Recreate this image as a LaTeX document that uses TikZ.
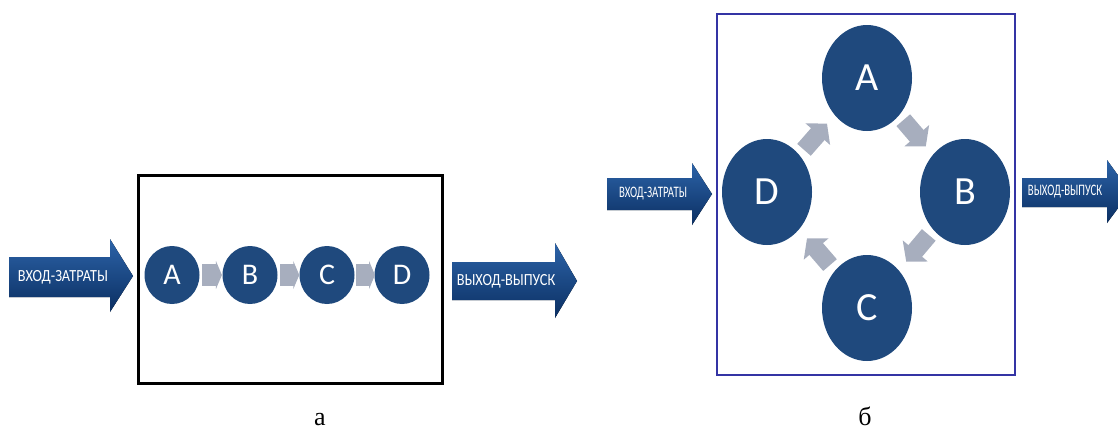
\documentclass[tikz,border=0pt]{standalone}
\usepackage{fontspec}
\setmainfont{Liberation Serif}
\newfontfamily\calib{Carlito}
\usetikzlibrary{positioning, shapes.geometric, arrows.meta, calc}

\definecolor{navy}{HTML}{1F497D}
\definecolor{arrtop}{HTML}{2C63A8}
\definecolor{arrbot}{HTML}{0B2F62}
\definecolor{flowgray}{HTML}{A7AEBE}
\definecolor{framblue}{HTML}{3434A4}

\begin{document}
\begin{tikzpicture}[x=0.5pt, y=-0.5pt,
    stage/.style={ellipse, fill=navy, text=white, inner sep=0pt, font=\calib\fontsize{15}{15}\selectfont, minimum width=27.5pt, minimum height=29pt},
    bigstage/.style={stage, font=\calib\fontsize{20}{20}\selectfont, minimum width=45pt, minimum height=53pt},
    flow/.style={draw=flowgray, line width=11pt, -{Triangle[length=3pt, width=14pt]}},
    bigflow/.style={draw=flowgray, line width=9pt, -{Triangle[length=7pt, width=16pt]}},
    io/.style={top color=arrtop, bottom color=arrbot, draw=none},
    iotext/.style={text=white, font=\calib\fontsize{8.5}{8.5}\selectfont, inner sep=0pt, xscale=0.84},
    smalliotext/.style={iotext, font=\calib\fontsize{8}{8}\selectfont, xscale=0.8},
    caption/.style={font=\fontsize{13}{13}\selectfont, anchor=base}]

    \useasboundingbox (0,0) rectangle (1118,430);
    \clip (0,0) rectangle (1118,430);

    % --- a: linear process
    \draw[line width=1.5pt] (138,175) rectangle (442,383);
    \fill[io] (9,257) -- (110,257) -- (110,239) -- (133,276) -- (110,312) -- (110,297) -- (9,297) -- cycle;
    \node[iotext] (inL) at (63,277) {ВХОД-ЗАТРАТЫ};
    \fill[io] (452,262) -- (555,262) -- (555,243) -- (577,281) -- (555,318) -- (555,300) -- (452,300) -- cycle;
    \node[iotext] (outL) at (506,281) {ВЫХОД-ВЫПУСК};

    \node[stage] (a1) at (172,275) {A};
    \node[stage] (b1) at (250,275) {B};
    \node[stage] (c1) at (327,275) {C};
    \node[stage] (d1) at (402,275) {D};
    \foreach \s/\t in {a1/b1, b1/c1, c1/d1}
        \draw[flow] ($(\s)!0.39!(\t)$) -- ($(\s)!0.64!(\t)$);

    \node[caption] (capa) at (320,425) {а};

    % --- b: closed cycle
    \draw[framblue, line width=1.2pt] (717,14) rectangle (1015,375);
    \fill[io] (607,178) -- (692,178) -- (692,163) -- (712,194) -- (692,225) -- (692,210) -- (607,210) -- cycle;
    \node[smalliotext] (inR) at (653,194) {ВХОД-ЗАТРАТЫ};
    \fill[io] (1022,178) -- (1107,178) -- (1107,160) -- (1130,192) -- (1107,223) -- (1107,207) -- (1022,207) -- cycle;
    \node[smalliotext] (outR) at (1065,192) {ВЫХОД-ВЫПУСК};

    \node[bigstage] (a2) at (867,78) {A};
    \node[bigstage] (b2) at (965,192) {B};
    \node[bigstage] (c2) at (867,308) {C};
    \node[bigstage] (d2) at (767,192) {D};
    \foreach \s/\t in {a2/b2, b2/c2, c2/d2, d2/a2}
        \draw[bigflow] ($(\s)!0.37!(\t)$) -- ($(\s)!0.60!(\t)$);

    \node[caption] (capb) at (865,425) {б};

\end{tikzpicture}
\end{document}
